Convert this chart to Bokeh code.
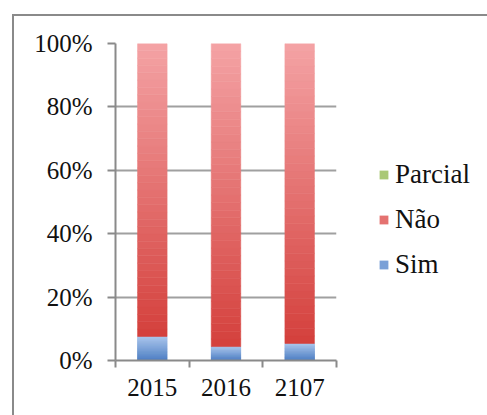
from bokeh.plotting import figure
from bokeh.models import (ColumnDataSource, Range1d, FixedTicker, PrintfTickFormatter,
                          Legend, LegendItem, InlineStyleSheet)
from bokeh.embed import file_html
from bokeh.resources import INLINE

years = ["2015", "2016", "2107"]
sim = [7.6, 4.4, 5.4]
nao = [92.4, 95.6, 94.6]
parcial = [0.0, 0.0, 0.0]
yticks = [0, 20, 40, 60, 80, 100]

FONT = "Liberation Serif"

def hex2rgb(h):
    h = h.lstrip("#")
    return tuple(int(h[i:i + 2], 16) for i in (0, 2, 4))

def lerp(c1, c2, t):
    a, b = hex2rgb(c1), hex2rgb(c2)
    return "#%02x%02x%02x" % tuple(int(round(a[i] + (b[i] - a[i]) * t)) for i in range(3))

series = [
    ("Sim", sim, "#4a7cc2", "#a9c5ec"),
    ("Não", nao, "#d4403c", "#f4a3a5"),
    ("Parcial", parcial, "#8fb34e", "#c6dc9c"),
]

p = figure(frame_width=221, frame_height=317, output_backend="svg", toolbar_location=None,
           x_range=Range1d(0, len(years)), y_range=Range1d(0, 100),
           min_border_left=115, min_border_top=43, min_border_right=130,
           min_border_bottom=45)
p.stylesheets = [InlineStyleSheet(css="""
:host::after {
  content: '';
  position: absolute;
  left: 12px; top: 14px; right: -20px; bottom: -20px;
  border-left: 2px solid #8a8a8a;
  border-top: 2px solid #8a8a8a;
  pointer-events: none;
  z-index: 10;
}
""")]
p.outline_line_color = None
p.background_fill_color = "white"

N = 40
renderers = {}
base = [0.0] * len(years)
for name, vals, bot_c, top_c in series:
    xs, bs, ts, cs, la = [], [], [], [], []
    for i, v in enumerate(vals):
        b0 = base[i]
        for k in range(N):
            xs.append(i + 0.5)
            bs.append(b0 + v * k / N)
            ts.append(b0 + v * (k + 1) / N)
            cs.append(lerp(bot_c, top_c, (k + 0.5) / N))
            la.append(1.0 if v > 0 else 0.0)
        base[i] = b0 + v
    src = ColumnDataSource(dict(x=xs, bottom=bs, top=ts, color=cs, la=la))
    p.vbar(x="x", bottom="bottom", top="top", width=0.4, source=src,
           fill_color="color", line_color="color", line_alpha="la", line_width=0.6)
    proxy = p.vbar(x=[0.5], bottom=[0], top=[0], width=0.0,
                   fill_color=lerp(bot_c, top_c, 0.5), line_color=None)
    renderers[name] = proxy

xa = p.xaxis[0]
xa.ticker = FixedTicker(ticks=[i + 0.5 for i in range(len(years))],
                        minor_ticks=list(range(len(years) + 1)))
xa.major_label_overrides = {i + 0.5: y for i, y in enumerate(years)}
xa.major_tick_line_color = None
xa.minor_tick_out = 7
xa.minor_tick_in = 0
xa.minor_tick_line_color = "#8a8a8a"
xa.minor_tick_line_width = 2
xa.axis_line_color = "#8a8a8a"
xa.axis_line_width = 2
xa.major_label_text_font = FONT
xa.major_label_text_font_size = "25px"
xa.major_label_text_color = "#111111"
xa.major_label_standoff = 11

ya = p.yaxis[0]
ya.ticker = FixedTicker(ticks=yticks, minor_ticks=[])
ya.formatter = PrintfTickFormatter(format="%d%%")
ya.major_tick_out = 8
ya.major_tick_in = 0
ya.major_tick_line_color = "#8a8a8a"
ya.major_tick_line_width = 2
ya.minor_tick_line_color = None
ya.axis_line_color = "#8a8a8a"
ya.axis_line_width = 2
ya.major_label_text_font = FONT
ya.major_label_text_font_size = "25px"
ya.major_label_text_color = "#111111"
ya.major_label_standoff = 15

p.xgrid.grid_line_color = None
p.ygrid.ticker = FixedTicker(ticks=yticks)
p.ygrid.grid_line_color = "#a0a0a0"
p.ygrid.grid_line_width = 2

legend = Legend(items=[LegendItem(label="Parcial", renderers=[renderers["Parcial"]]),
                       LegendItem(label="Não", renderers=[renderers["Não"]]),
                       LegendItem(label="Sim", renderers=[renderers["Sim"]])],
                location=(42, 80))
legend.border_line_color = None
legend.background_fill_alpha = 0
legend.label_text_font = FONT
legend.label_text_font_size = "27px"
legend.label_text_color = "#111111"
legend.glyph_width = 11
legend.glyph_height = 11
legend.label_standoff = 6
legend.spacing = 14
legend.padding = 0
legend.margin = 0
p.add_layout(legend, "right")

open("out.html", "w").write(file_html(p, INLINE))
